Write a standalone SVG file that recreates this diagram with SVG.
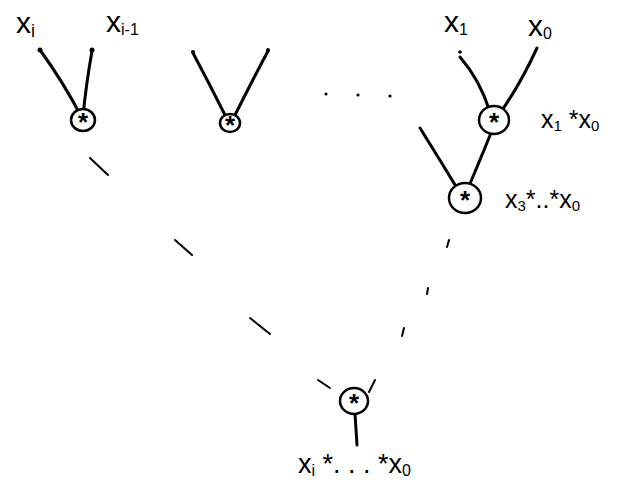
<svg xmlns="http://www.w3.org/2000/svg" width="627" height="488" viewBox="0 0 627 488">
<style>
.e{stroke:#000;stroke-width:3;fill:none;stroke-linecap:round}
.n{stroke:#000;stroke-width:2.5;fill:#fff}
.s{font-family:"Liberation Sans",Arial,sans-serif;font-size:26px;fill:#000;text-anchor:middle;font-weight:bold}
.t{font-family:"Liberation Sans",Arial,sans-serif;fill:#000}
.d{stroke:#000;stroke-width:2;fill:none;stroke-linecap:round}
.p{fill:#000}
</style>
<rect width="627" height="488" fill="#fff"/>
<g id="connectors">
<path class="e" d="M40,50 Q62,80 81,116"/>
<path class="e" d="M92,51 Q86,85 83,116"/>
<path class="e" d="M193,53 Q210,85 226,117"/>
<path class="e" d="M268,51 Q250,85 234,117"/>
<path class="e" d="M460,57 Q480,80 490,112"/>
<path class="e" d="M537,48 Q520,85 500,113"/>
<path class="e" d="M420,128 Q440,160 460,193"/>
<path class="e" d="M491,133 Q478,165 466,193"/>
<path class="e" d="M355,414 L357,445"/>
<path class="d" d="M90,158 L108,175"/>
<path class="d" d="M175,240 L192,255"/>
<path class="d" d="M250,318 L270,334"/>
<path class="d" d="M318,380 L330,388"/>
<path class="d" d="M449,240 L447,247"/>
<path class="d" d="M428,288 L427,294"/>
<path class="d" d="M404,328 L402,336"/>
<path class="d" d="M375,380 L369,392"/>
<circle class="p" cx="40" cy="50" r="2.5"/>
<circle class="p" cx="92" cy="50" r="2.5"/>
<circle class="p" cx="193" cy="52" r="2"/>
<circle class="p" cx="268" cy="50" r="2"/>
<circle class="p" cx="460" cy="52" r="1.8"/>
<circle class="p" cx="326" cy="94" r="1.6"/>
<circle class="p" cx="358" cy="95" r="1.6"/>
<circle class="p" cx="390" cy="96" r="1.6"/>
</g>
<g id="n1"><ellipse class="n" cx="83" cy="120" rx="12" ry="11"/><text class="s" x="83" y="131">*</text></g>
<g id="n2"><ellipse class="n" cx="230" cy="123" rx="10" ry="9"/><text class="s" x="230" y="134">*</text></g>
<g id="n3"><ellipse class="n" cx="494" cy="120" rx="15" ry="14"/><text class="s" x="494" y="131">*</text></g>
<g id="n4"><ellipse class="n" cx="465" cy="198" rx="16" ry="15"/><text class="s" x="465" y="209">*</text></g>
<g id="n5"><ellipse class="n" cx="354" cy="401" rx="14" ry="13"/><text class="s" x="354" y="412">*</text></g>
<g id="labels">
<text class="t" x="16" y="33" font-size="30">x<tspan font-size="18" dy="4">i</tspan></text>
<text class="t" x="106" y="32" font-size="30">x<tspan font-size="16" dy="3">i-1</tspan></text>
<text class="t" x="444" y="32" font-size="30">x<tspan font-size="16" dy="3">1</tspan></text>
<text class="t" x="528" y="36" font-size="30">x<tspan font-size="16" dy="3">0</tspan></text>
<text class="t" x="541" y="128" font-size="25">x<tspan font-size="15" dy="3">1</tspan><tspan dy="-3"> *</tspan>x<tspan font-size="15" dy="3">0</tspan></text>
<text class="t" x="505" y="208" font-size="25">x<tspan font-size="15" dy="3">3</tspan><tspan dy="-3">*..*</tspan>x<tspan font-size="15" dy="3">0</tspan></text>
<text class="t" x="298" y="473" font-size="27">x<tspan font-size="16" dy="3">i</tspan><tspan dy="-3"> *. . .  *</tspan>x<tspan font-size="16" dy="3">0</tspan></text>
</g>
</svg>
